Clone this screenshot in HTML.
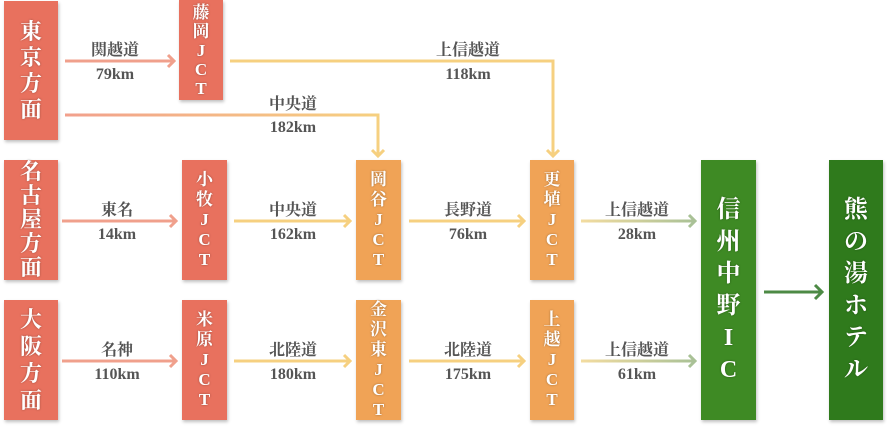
<!DOCTYPE html>
<html><head><meta charset="utf-8"><style>
body{margin:0;width:887px;height:429px;background:#fff;position:relative;overflow:hidden;font-family:"Liberation Serif","Noto Serif CJK JP",serif}
.b{position:absolute;display:flex;flex-direction:column;align-items:center;justify-content:center;color:#fff;box-shadow:1px 2px 3px rgba(0,0,0,.25);text-shadow:0 0 2px rgba(0,0,0,.35);font-weight:bold}
.b span{display:block;text-align:center}
.r{background:#e8715e}.o{background:#f0a356}.g{background:#3e8a24}.dg{background:#2f7a1c}
.l{position:absolute;color:#555;font-weight:bold;font-size:16px;text-align:center;width:120px;font-family:"Liberation Serif","Noto Serif CJK JP",serif}
</style></head><body>
<svg width="887" height="429" style="position:absolute;left:0;top:0">
<defs>
<linearGradient id="ry" gradientUnits="userSpaceOnUse" x1="65" y1="0" x2="378" y2="0"><stop offset="0" stop-color="#f2a08c"/><stop offset="1" stop-color="#f6d080"/></linearGradient>
<linearGradient id="yg" gradientUnits="userSpaceOnUse" x1="581" y1="0" x2="695" y2="0"><stop offset="0" stop-color="#f3dca0"/><stop offset="1" stop-color="#a9c196"/></linearGradient>
</defs>
<g fill="none" stroke-width="3">
<path d="M65 61H174" stroke="#f0a08c"/><path d="M168 55l6 6-6 6" stroke="#f0a08c"/>
<path d="M230 61H553V156" stroke="#f6d080"/><path d="M547 150l6 6 6-6" stroke="#f6d080"/>
<path d="M65 115H378V156" stroke="url(#ry)"/><path d="M372 150l6 6 6-6" stroke="#f6d080"/>
<path d="M62 221H176" stroke="#f0a08c"/><path d="M170 215l6 6-6 6" stroke="#f0a08c"/>
<path d="M234 221H350" stroke="#f6d080"/><path d="M344 215l6 6-6 6" stroke="#f6d080"/>
<path d="M409 221H524" stroke="#f6d080"/><path d="M518 215l6 6-6 6" stroke="#f6d080"/>
<path d="M581 221H695" stroke="url(#yg)"/><path d="M689 215l6 6-6 6" stroke="#a9c196"/>
<path d="M62 361H176" stroke="#f0a08c"/><path d="M170 355l6 6-6 6" stroke="#f0a08c"/>
<path d="M234 361H350" stroke="#f6d080"/><path d="M344 355l6 6-6 6" stroke="#f6d080"/>
<path d="M409 361H524" stroke="#f6d080"/><path d="M518 355l6 6-6 6" stroke="#f6d080"/>
<path d="M581 361H695" stroke="url(#yg)"/><path d="M689 355l6 6-6 6" stroke="#a9c196"/>
<path d="M764 292H822" stroke="#4d8a45"/><path d="M815 285l7 7-7 7" stroke="#4d8a45"/>
</g></svg>

<div class="b r" style="left:4px;top:1px;width:54px;height:139px;font-size:22px;line-height:26px"><span>東</span><span>京</span><span>方</span><span>面</span></div>
<div class="b r" style="left:179px;top:0;width:44px;height:100px;font-size:17px;line-height:19px"><span>藤</span><span>岡</span><span>J</span><span>C</span><span>T</span></div>
<div class="b r" style="left:4px;top:160px;width:54px;height:120px;font-size:22px;line-height:24px"><span>名</span><span>古</span><span>屋</span><span>方</span><span>面</span></div>
<div class="b r" style="left:182px;top:160px;width:45px;height:120px;font-size:17px;line-height:20px"><span>小</span><span>牧</span><span>J</span><span>C</span><span>T</span></div>
<div class="b o" style="left:356px;top:160px;width:45px;height:120px;font-size:17px;line-height:20px"><span>岡</span><span>谷</span><span>J</span><span>C</span><span>T</span></div>
<div class="b o" style="left:530px;top:160px;width:44px;height:120px;font-size:17px;line-height:20px"><span>更</span><span>埴</span><span>J</span><span>C</span><span>T</span></div>
<div class="b r" style="left:4px;top:300px;width:54px;height:120px;font-size:22px;line-height:27px"><span>大</span><span>阪</span><span>方</span><span>面</span></div>
<div class="b r" style="left:182px;top:300px;width:45px;height:120px;font-size:17px;line-height:20px"><span>米</span><span>原</span><span>J</span><span>C</span><span>T</span></div>
<div class="b o" style="left:356px;top:300px;width:45px;height:120px;font-size:17px;line-height:20px"><span>金</span><span>沢</span><span>東</span><span>J</span><span>C</span><span>T</span></div>
<div class="b o" style="left:530px;top:300px;width:44px;height:120px;font-size:17px;line-height:20px"><span>上</span><span>越</span><span>J</span><span>C</span><span>T</span></div>
<div class="b g" style="left:701px;top:160px;width:55px;height:260px;font-size:24px;line-height:32px"><span>信</span><span>州</span><span>中</span><span>野</span><span>I</span><span>C</span></div>
<div class="b dg" style="left:829px;top:160px;width:54px;height:260px;font-size:24px;line-height:32px"><span>熊</span><span>の</span><span>湯</span><span>ホ</span><span>テ</span><span>ル</span></div>

<div class="l" style="left:55px;top:37px">関越道</div><div class="l" style="left:55px;top:66px">79km</div>
<div class="l" style="left:233px;top:91px">中央道</div><div class="l" style="left:233px;top:119px">182km</div>
<div class="l" style="left:408px;top:37px">上信越道</div><div class="l" style="left:408px;top:66px">118km</div>
<div class="l" style="left:57px;top:197px">東名</div><div class="l" style="left:57px;top:226px">14km</div>
<div class="l" style="left:233px;top:197px">中央道</div><div class="l" style="left:233px;top:226px">162km</div>
<div class="l" style="left:408px;top:197px">長野道</div><div class="l" style="left:408px;top:226px">76km</div>
<div class="l" style="left:577px;top:197px">上信越道</div><div class="l" style="left:577px;top:226px">28km</div>
<div class="l" style="left:57px;top:337px">名神</div><div class="l" style="left:57px;top:366px">110km</div>
<div class="l" style="left:233px;top:337px">北陸道</div><div class="l" style="left:233px;top:366px">180km</div>
<div class="l" style="left:408px;top:337px">北陸道</div><div class="l" style="left:408px;top:366px">175km</div>
<div class="l" style="left:577px;top:337px">上信越道</div><div class="l" style="left:577px;top:366px">61km</div>
</body></html>
